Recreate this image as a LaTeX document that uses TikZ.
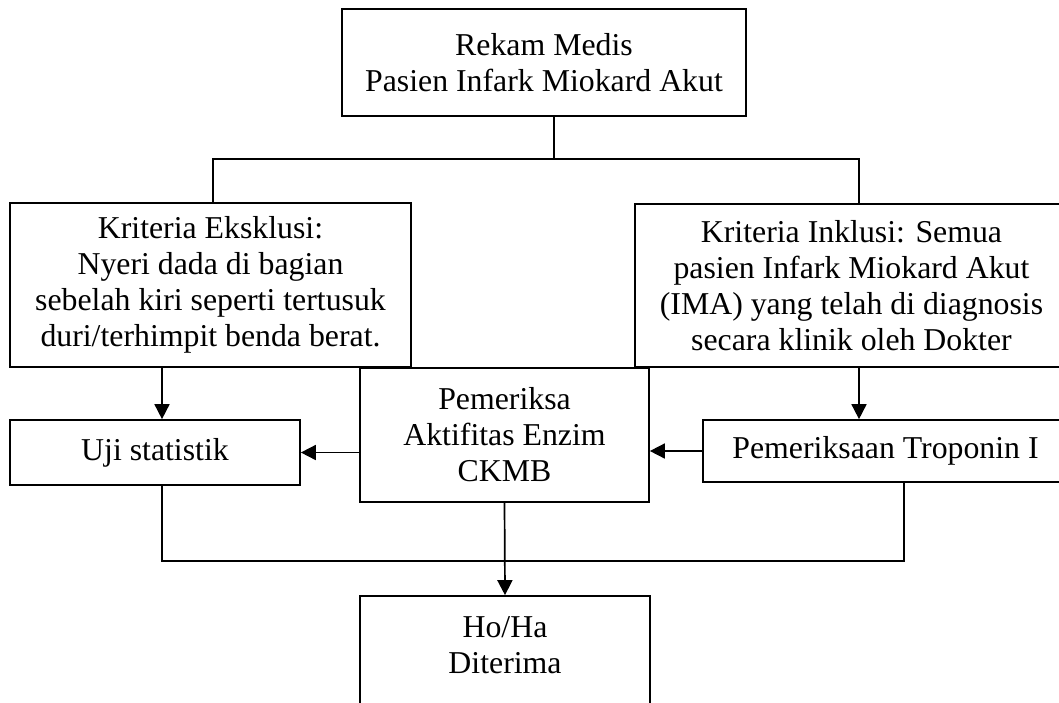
\documentclass[tikz,border=0pt]{standalone}
\usepackage{fontspec}
\setmainfont{Liberation Serif}
\usetikzlibrary{arrows.meta,calc}
\tikzstyle{box} = [draw,line width=0.85pt,align=center,inner sep=0pt,font=\fontsize{15.9pt}{18pt}\selectfont]
\tikzstyle{link} = [line width=0.85pt]
\tikzstyle{arr} = [line width=0.85pt,-{Triangle[length=7.5pt,width=7.5pt]}]

\begin{document}
\begin{tikzpicture}[x=0.5pt,y=-0.5pt]
  \useasboundingbox (0,0) rectangle (1059,702);
  \clip (0,0) rectangle (1059,702);
  % Boxes
  \node[box,minimum width=202pt,minimum height=53.5pt] (rekam) at (544,62.5) {Rekam Medis\\Pasien Infark Miokard Akut};
  \node[box,minimum width=200.5pt,minimum height=82pt] (eks) at (210.5,285) {Kriteria Eksklusi:\\Nyeri dada di bagian\\sebelah kiri seperti tertusuk\\duri/terhimpit benda berat.};
  \node[box,minimum width=216.5pt,minimum height=81.5pt] (inkl) at (851.5,285.5) {Kriteria Inklusi: Semua\\pasien Infark Miokard Akut\\(IMA) yang telah di diagnosis\\secara klinik oleh Dokter};
  \node[box,minimum width=145pt,minimum height=32.5pt] (uji) at (155,452.5) {Uji statistik};
  \node[box,minimum width=144.5pt,minimum height=67pt] (ckmb) at (504.5,435) {Pemeriksa\\Aktifitas Enzim\\CKMB};
  \node[box,minimum width=182.5pt,minimum height=31pt] (trop) at (885.5,451) {Pemeriksaan Troponin I};
  \node[box,minimum width=145pt,minimum height=70pt] (hoha) at (505,666) {};
  \node[box,draw=none] (hohatxt) at (505,645) {Ho/Ha\\Diterima};
  % Branch points
  \coordinate (split) at (554,159);
  \coordinate (ltap) at (213,159);
  \coordinate (rtap) at (859,159);
  \coordinate (ujitap) at (162,561);
  \coordinate (troptap) at (904,561);
  % Connectors
  \draw[link] (rekam.south -| split) -- (split);
  \draw[link] (ltap |- eks.north) -- (ltap) -- (rtap) -- (rtap |- inkl.north);
  \draw[arr] (eks.south -| ujitap) -- (uji.north -| ujitap);
  \draw[arr] (inkl.south -| rtap) -- (trop.north -| rtap);
  \draw[arr] (ckmb.west |- uji.east) -- (uji.east);
  \draw[arr] (trop.west) -- (trop.west -| ckmb.east);
  \draw[link] (uji.south -| ujitap) -- (ujitap) -- (troptap) -- (trop.south -| troptap);
  \draw[arr] (ckmb.south) -- (hoha.north);
\end{tikzpicture}
\end{document}
